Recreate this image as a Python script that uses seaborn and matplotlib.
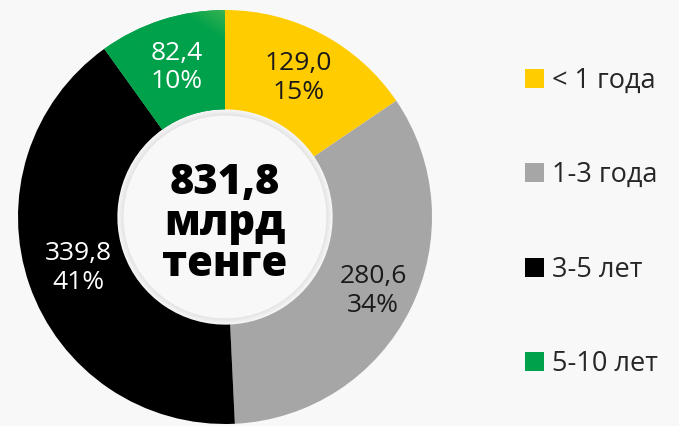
import numpy as np
import matplotlib
matplotlib.use("Agg")
import matplotlib.pyplot as plt
import seaborn as sns
from matplotlib.patches import Circle, Patch
from matplotlib.colors import LinearSegmentedColormap

# Portfolio structure by maturity, bn tenge
categories = ["< 1 года", "1-3 года", "3-5 лет", "5-10 лет"]
values = [129.0, 280.6, 339.8, 82.4]
shares = ["15%", "34%", "41%", "10%"]
value_labels = ["129,0", "280,6", "339,8", "82,4"]
total_label = "831,8\nмлрд\nтенге"

colors = ["#ffcc00", "#a6a6a6", "#000000", "#00a14b"]
label_colors = ["#1a1a1a", "#1a1a1a", "#ffffff", "#ffffff"]

BG = "#f8f8f8"

sns.set_theme(style="white")
plt.rcParams["font.family"] = ["Open Sans", "DejaVu Sans"]

fig = plt.figure(figsize=(6.79, 4.26), dpi=100, facecolor=BG)
W, H = 679, 426
cx, cy, R = 225, 217, 207
ax = fig.add_axes([(cx - R) / W, (H - cy - R) / H, 2 * R / W, 2 * R / H])
ax.set_facecolor(BG)

inner = 0.52
wedges, _ = ax.pie(values, colors=colors, startangle=90, counterclock=False,
                   radius=1.0, wedgeprops=dict(width=1 - inner, linewidth=0))

# soft gradient over the green segment
green_cmap = LinearSegmentedColormap.from_list(
    "grn", [(0.0, "#00a14b"), (0.62, "#00a14b"), (0.8, "#2fb050"), (1.0, "#93d35c")])
gx, gy = np.meshgrid(np.linspace(-1, 1, 400), np.linspace(-1, 1, 400))
t = (gx * 0.55 + gy * 0.85)
t = (t - 0.35) / (0.95 - 0.35)
t = np.clip(t, 0, 1)
img = ax.imshow(t, cmap=green_cmap, extent=(-1, 1, -1, 1), origin="lower",
                vmin=0, vmax=1, zorder=2, interpolation="bilinear")
img.set_clip_path(wedges[3])

# centre disc with a faint inner shadow
for k in range(10):
    ax.add_patch(Circle((0, 0), inner - 0.003 * k, facecolor="#000000",
                        alpha=0.007, linewidth=0, zorder=3))
ax.add_patch(Circle((0, 0), inner - 0.03, facecolor=BG, linewidth=0, zorder=4))

ax.text(0, -0.035, total_label, ha="center", va="center", fontsize=30,
        fontweight=800, color="#000000", linespacing=0.97, zorder=5)

# value labels at the middle of each ring segment
cum = np.cumsum([0] + values[:-1])
tot = sum(values)
radii = [0.76, 0.80, 0.75, 0.76]
for v, c, lab, sh, col, r in zip(values, cum, value_labels, shares, label_colors, radii):
    ang = np.deg2rad(90 - (c + v / 2) / tot * 360)
    ax.text(r * np.cos(ang), r * np.sin(ang), f"{lab}\n{sh}", ha="center",
            va="center", fontsize=19, color=col, linespacing=1.17, zorder=5)

ax.set_xlim(-1, 1)
ax.set_ylim(-1, 1)
ax.set_aspect("equal")
ax.axis("off")

handles = [Patch(facecolor=c, edgecolor="none") for c in colors]
leg = fig.legend(handles, categories, loc="upper left",
                 bbox_to_anchor=(514 / W, 1 - 56 / H), frameon=False,
                 fontsize=19.5, handlelength=0.7, handleheight=0.7,
                 handletextpad=0.3, labelspacing=2.45, borderaxespad=0)

fig.savefig("out.png", dpi=100, facecolor=BG)
